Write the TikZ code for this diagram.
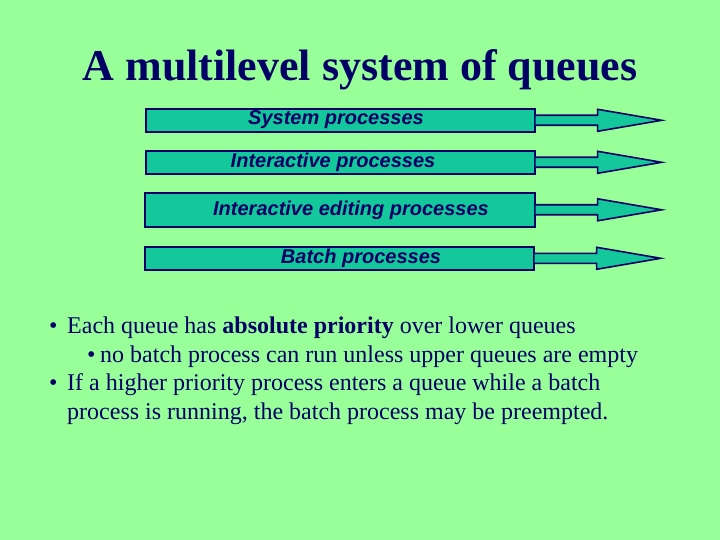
\documentclass[tikz,border=0pt]{standalone}
\usepackage{fontspec}
\setmainfont{Liberation Serif}
\setsansfont{Liberation Sans}
\usetikzlibrary{calc}
\definecolor{slidegreen}{RGB}{153,255,153}
\definecolor{queueteal}{RGB}{20,200,155}
\definecolor{navy}{RGB}{0,0,102}

\begin{document}
\begin{tikzpicture}[
        x=1pt, y=-1pt,
        queue/.style={draw=navy, line width=1.6pt, fill=queueteal, inner sep=0pt, anchor=north west},
        qlabel/.style={font=\sffamily\bfseries\itshape\fontsize{20}{20}\selectfont, text=navy, inner sep=0pt},
        qarrow/.style={draw=navy, line width=1.6pt, fill=queueteal, line join=miter},
        item/.style={font=\fontsize{24}{24}\selectfont, text=navy, anchor=base west, inner sep=0pt}
    ]
        % Background
        \fill[slidegreen] (0,0) rectangle (720,540);
        \useasboundingbox (0,0) rectangle (720,540);

        % Title
        \node[font=\bfseries\fontsize{44}{44}\selectfont, text=navy, anchor=base, inner sep=0pt]
            (title) at (360,81) {A multilevel system of queues};

        % Queues
        \node[queue, minimum width=389pt, minimum height=23pt] (Q-1) at (145,108) {};
        \node[queue, minimum width=389pt, minimum height=23pt] (Q-2) at (145,150) {};
        \node[queue, minimum width=390pt, minimum height=34pt] (Q-3) at (144,192) {};
        \node[queue, minimum width=389pt, minimum height=23pt] (Q-4) at (144,246) {};

        \node[qlabel] (L-1) at (336,120) {System processes};
        \node[qlabel] (L-2) at (333,162) {Interactive processes};
        \node[qlabel] (L-3) at (351,210) {Interactive editing processes};
        \node[qlabel] (L-4) at (361,258) {Batch processes};

        % Arrows
        \foreach \i in {1,...,4} {
            \coordinate (T-\i) at ($(Q-\i.east)+(126,0)$);
            \draw[qarrow] ($(Q-\i.east)+(0,-5)$) -- ($(Q-\i.east)+(62,-5)$)
                -- ($(Q-\i.east)+(62,-11)$) -- (T-\i) -- ($(Q-\i.east)+(62,11)$)
                -- ($(Q-\i.east)+(62,5)$) -- ($(Q-\i.east)+(0,5)$);
        }

        % Bullets
        \node[item] (B-1) at (49,333) {\textbullet};
        \node[item] (I-1) at (67,333) {Each queue has \textbf{absolute priority} over lower queues};
        \node[item] (B-2) at (87,362) {\textbullet};
        \node[item] (I-2) at (100,362) {no batch process can run unless upper queues are empty};
        \node[item] (B-3) at (49,390) {\textbullet};
        \node[item] (I-3) at (67,390) {If a higher priority process enters a queue while a batch};
        \node[item] (I-4) at (67,419) {process is running, the batch process may be preempted.};
    \end{tikzpicture}
\end{document}
